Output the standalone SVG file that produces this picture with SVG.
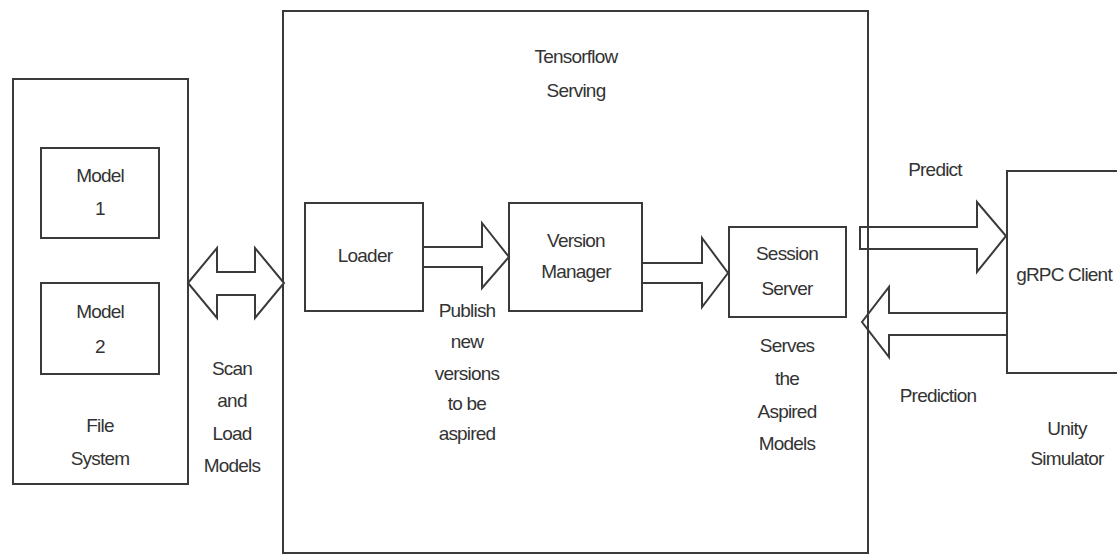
<svg xmlns="http://www.w3.org/2000/svg" width="1117" height="554" viewBox="0 0 1117 554">
<style>
.box{fill:none;stroke:#3a3a3a;stroke-width:2}
.arr{fill:#fff;stroke:#3a3a3a;stroke-width:2;stroke-linejoin:miter}
text{font-family:"Liberation Sans",Arial,sans-serif;font-size:19px;fill:#333;text-anchor:middle;letter-spacing:-0.8px}
</style>
<rect width="1117" height="554" fill="#fff"/>
<g id="file-system">
<rect class="box" x="13" y="79" width="175" height="405"/>
<text x="100" y="432">File</text>
<text x="100" y="465">System</text>
</g>
<g id="model-1">
<rect class="box" x="41" y="148" width="118" height="90"/>
<text x="100" y="182">Model</text>
<text x="100" y="215">1</text>
</g>
<g id="model-2">
<rect class="box" x="41" y="283" width="118" height="91"/>
<text x="100" y="318">Model</text>
<text x="100" y="353">2</text>
</g>
<g id="tensorflow-serving">
<rect class="box" x="283" y="11" width="585" height="542"/>
<text x="576" y="63">Tensorflow</text>
<text x="576" y="97">Serving</text>
</g>
<g id="loader">
<rect class="box" x="305" y="203" width="118" height="108"/>
<text x="365" y="262">Loader</text>
</g>
<g id="version-manager">
<rect class="box" x="509" y="203" width="133" height="108"/>
<text x="576" y="247">Version</text>
<text x="576" y="278">Manager</text>
</g>
<g id="session-server">
<rect class="box" x="729" y="227" width="117" height="90"/>
<text x="787" y="260">Session</text>
<text x="787" y="295">Server</text>
</g>
<g id="grpc-client">
<rect class="box" x="1007" y="171" width="120" height="202"/>
<text x="1064" y="281">gRPC Client</text>
<text x="1067" y="435">Unity</text>
<text x="1067" y="465">Simulator</text>
</g>
<g id="connectors">
<polygon class="arr" points="188,283 217,248 217,272 255,272 255,248 284,283 255,318 255,295 217,295 217,318"/>
<polygon class="arr" points="423,247 482,247 482,223 509,257 482,288 482,267 423,267"/>
<polygon class="arr" points="642,263 702,263 702,238 728,273 702,307 702,283 642,283"/>
<polygon class="arr" points="860,227 977,227 977,202 1006,236 977,272 977,249 860,249"/>
<polygon class="arr" points="1007,313 889,313 889,287 862,322 889,357 889,335 1007,335"/>
<line x1="868" y1="200" x2="868" y2="360" stroke="#3a3a3a" stroke-width="2"/>
</g>
<g id="labels">
<text x="232" y="375">Scan</text>
<text x="232" y="407">and</text>
<text x="232" y="440">Load</text>
<text x="232" y="472">Models</text>
<text x="467" y="317">Publish</text>
<text x="467" y="348">new</text>
<text x="467" y="380">versions</text>
<text x="467" y="410">to be</text>
<text x="467" y="440">aspired</text>
<text x="787" y="352">Serves</text>
<text x="787" y="385">the</text>
<text x="787" y="418">Aspired</text>
<text x="787" y="450">Models</text>
<text x="935" y="176">Predict</text>
<text x="938" y="402">Prediction</text>
</g>
</svg>
